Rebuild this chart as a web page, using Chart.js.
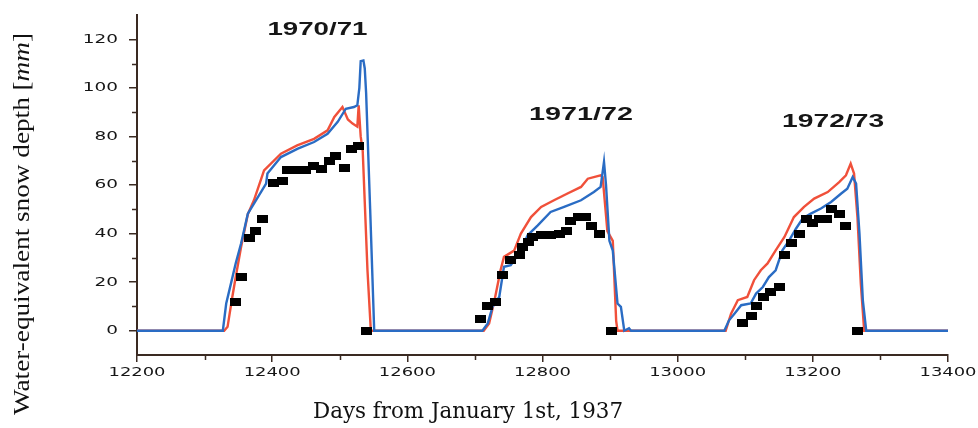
<!DOCTYPE html>
<html>
<head>
<meta charset="utf-8">
<script src="https://cdn.jsdelivr.net/npm/chart.js@4.4.1/dist/chart.umd.min.js"></script>
<style>
html,body{margin:0;padding:0;background:#ffffff;}
#wrap{width:978px;height:428px;position:relative;}
</style>
</head>
<body>
<div id="wrap"><canvas id="c" width="978" height="428"></canvas></div>
<script>
// ---------------- DATA ----------------
const xTicks = [12200, 12400, 12600, 12800, 13000, 13200, 13400];
const xMinorTicks = [12300, 12500, 12700, 12900, 13100, 13300];
const yTicks = [0, 20, 40, 60, 80, 100, 120];
const yMinorTicks = [10, 30, 50, 70, 90, 110];

const seasonLabels = ['1970/71', '1971/72', '1972/73'];
const seasonLabelDays = [12467, 12857, 13230];
const seasonLabelValues = [123.7, 88.8, 85.9];

// red model line
const redDays = [12200, 12329, 12334, 12341, 12346, 12354, 12364, 12373, 12388, 12413, 12437, 12462, 12482, 12492, 12504, 12512, 12519, 12526, 12528, 12531, 12534, 12537, 12541, 12546,
  12713, 12721, 12729, 12738, 12743, 12758, 12768, 12783, 12798, 12817, 12837, 12857, 12867, 12886, 12889, 12896, 12904, 12909, 12911,
  13071, 13079, 13089, 13103, 13113, 13123, 13133, 13145, 13158, 13172, 13187, 13202, 13222, 13239, 13249, 13256, 13261, 13266, 13271, 13276, 13400];
const redValues = [0, 0, 1.6, 13.9, 22, 34.5, 48, 53.7, 66, 72.9, 76.3, 79, 82.5, 88, 92.1, 87, 85.3, 84, 92.8, 80, 74, 53, 25, 0,
  0, 3, 12.5, 25, 30.4, 33, 40, 46.8, 51, 53.7, 56.5, 59.2, 62.6, 64, 63.3, 41, 37, 4, 0,
  0, 7, 12.6, 13.9, 20.8, 24.9, 27.7, 33.1, 38.6, 46.8, 51, 54.4, 57.1, 61.2, 64, 68.8, 64.7, 46.8, 19.4, 0, 0];

// blue model line
const blueDays = [12200, 12327, 12332, 12339, 12346, 12354, 12364, 12376, 12391, 12393, 12413, 12438, 12462, 12482, 12497, 12509, 12521, 12526, 12529, 12531, 12535, 12537, 12539, 12545, 12551,
  12711, 12719, 12726, 12736, 12743, 12753, 12768, 12778, 12793, 12812, 12832, 12857, 12876, 12886, 12891, 12894, 12899, 12904, 12911, 12916, 12921, 12928, 12931,
  13069, 13076, 13084, 13094, 13108, 13116, 13126, 13135, 13145, 13155, 13165, 13175, 13185, 13197, 13212, 13227, 13242, 13251, 13259, 13264, 13269, 13274, 13279, 13400];
const blueValues = [0, 0, 11.2, 19.4, 27.7, 35.9, 48.2, 53.7, 60.6, 64.7, 71.5, 75, 77.7, 81.1, 86, 91.4, 92.1, 92.8, 100, 111, 111.3, 108, 98, 50, 0,
  0, 3, 9.8, 13.9, 26.3, 27, 33, 39.3, 43.4, 48.9, 51, 53.7, 57.1, 59.2, 69.5, 60, 37, 33, 11.2, 9.8, 0, 1, 0,
  0, 4.3, 7, 10.5, 11.2, 15.3, 18, 22.1, 24.9, 33.1, 37.2, 42, 46.2, 48.2, 50.3, 53, 56.5, 58.5, 63.3, 60.6, 40, 12.5, 0, 0];

// observed snow depth (black squares)
const obsDays = [12346, 12355, 12366, 12376, 12386, 12402, 12416, 12423, 12436, 12449, 12461, 12473, 12485, 12494, 12507, 12517, 12528, 12539,
  12709, 12719, 12731, 12741, 12753, 12766, 12771, 12780, 12785, 12798, 12812, 12825, 12835, 12842, 12854, 12864, 12872, 12884, 12902,
  13096, 13109, 13117, 13127, 13138, 13150, 13158, 13169, 13180, 13190, 13200, 13210, 13220, 13227, 13239, 13249, 13266];
const obsValues = [12, 22, 38, 41, 46, 61, 61.5, 66, 66, 66, 68, 66.5, 70, 72, 67, 75, 76, 0,
  5, 10, 12, 23, 29, 31, 34.5, 36.5, 38.6, 39.3, 39.3, 40, 41, 45, 47, 47, 43, 40, 0,
  3, 6, 10, 14, 16, 18, 31, 36, 40, 46, 44.5, 46, 46, 50, 48, 43, 0];

// ---------------- STYLE ----------------
const AXIS = '#3a2a22';
const TXT = '#161616';
const RED = '#f0503a';
const BLUE = '#2a6cc4';

const pts = (xs, ys) => xs.map((d, i) => ({ x: d, y: ys[i] }));

const marker = document.createElement('canvas');
marker.width = 11; marker.height = 8;
(function(){ const m = marker.getContext('2d'); m.fillStyle = '#000'; m.fillRect(0, 0, 11, 8); })();

function stretchText(ctx, text, x, y, font, sx, align) {
  ctx.save();
  ctx.font = font;
  ctx.translate(x, y);
  ctx.scale(sx, 1);
  ctx.textAlign = align;
  ctx.textBaseline = 'middle';
  ctx.fillText(text, 0, 0);
  ctx.restore();
}
function fitText(ctx, text, x, y, font, width) {
  ctx.save();
  ctx.font = font;
  const w = ctx.measureText(text).width;
  ctx.restore();
  stretchText(ctx, text, x, y, font, width / w, 'center');
}

const decor = {
  id: 'decor',
  afterDraw(chart) {
    const { ctx, scales: { x, y } } = chart;
    ctx.save();
    ctx.strokeStyle = AXIS;
    ctx.lineWidth = 1.5;
    ctx.beginPath();
    xMinorTicks.forEach(v => { const p = Math.round(x.getPixelForValue(v)) + 0.5; ctx.moveTo(p, y.bottom); ctx.lineTo(p, y.bottom + 5); });
    yMinorTicks.forEach(v => { const p = Math.round(y.getPixelForValue(v)) + 0.5; ctx.moveTo(x.left, p); ctx.lineTo(x.left - 5, p); });
    ctx.stroke();

    ctx.fillStyle = TXT;
    const tickFont = '13px "DejaVu Sans", Arial, sans-serif';
    xTicks.forEach(v => stretchText(ctx, String(v), x.getPixelForValue(v), y.bottom + 18, tickFont, 1.38, 'center'));
    yTicks.forEach(v => stretchText(ctx, String(v), x.left - 19, y.getPixelForValue(v), tickFont, 1.42, 'right'));

    // season labels
    const labFont = 'bold 18px "Liberation Sans", Arial, sans-serif';
    const labW = [100, 104, 102];
    seasonLabels.forEach((t, i) => fitText(ctx, t, x.getPixelForValue(seasonLabelDays[i]), y.getPixelForValue(seasonLabelValues[i]), labFont, labW[i]));

    // x axis title
    ctx.fillStyle = '#111';
    fitText(ctx, 'Days from January 1st, 1937', 468, 412, '23px "DejaVu Serif", "Liberation Serif", serif', 310);

    // y axis title (rotated, with italic mm)
    const f1 = '23px "Liberation Serif", "DejaVu Serif", serif';
    const f2 = 'italic 23px "Liberation Serif", "DejaVu Serif", serif';
    const parts = [['Water-equivalent snow depth [', f1], ['mm', f2], [']', f1]];
    let total = 0;
    const widths = parts.map(([t, f]) => { ctx.font = f; const w = ctx.measureText(t).width; total += w; return w; });
    const target = 382;
    const sx = target / total;
    ctx.save();
    ctx.translate(23, 224);
    ctx.rotate(-Math.PI / 2);
    ctx.scale(sx, 1);
    ctx.textBaseline = 'middle';
    ctx.textAlign = 'left';
    let cx = -total / 2;
    parts.forEach(([t, f], i) => { ctx.font = f; ctx.fillText(t, cx, 0); cx += widths[i]; });
    ctx.restore();
    ctx.restore();
  }
};

new Chart(document.getElementById('c'), {
  type: 'line',
  data: {
    datasets: [
      { label: 'Observed', data: pts(obsDays, obsValues), showLine: false, pointStyle: marker, pointRadius: 5, pointHoverRadius: 5, borderColor: '#000', backgroundColor: '#000' },
      { label: 'Model B', data: pts(blueDays, blueValues), borderColor: BLUE, borderWidth: 2.4, pointRadius: 0, tension: 0, fill: false },
      { label: 'Model A', data: pts(redDays, redValues), borderColor: RED, borderWidth: 2.4, pointRadius: 0, tension: 0, fill: false }
    ]
  },
  options: {
    responsive: false,
    animation: false,
    devicePixelRatio: 1,
    layout: { padding: { left: 0, top: 15, right: 30, bottom: 0 } },
    plugins: { legend: { display: false }, tooltip: { enabled: false }, title: { display: false } },
    scales: {
      x: {
        type: 'linear', min: 12200, max: 13400,
        afterBuildTicks: s => { s.ticks = xTicks.map(v => ({ value: v })); },
        afterFit: s => { s.height = 73; },
        ticks: { display: false },
        grid: { drawOnChartArea: false, drawTicks: true, tickLength: 7, color: AXIS, tickColor: AXIS, lineWidth: 1.5 },
        border: { display: true, color: AXIS, width: 2 }
      },
      y: {
        type: 'linear', min: -10, max: 130,
        afterBuildTicks: s => { s.ticks = yTicks.map(v => ({ value: v })); },
        afterFit: s => { s.width = 137; },
        ticks: { display: false },
        grid: { drawOnChartArea: false, drawTicks: true, tickLength: 8, color: AXIS, tickColor: AXIS, lineWidth: 1.5 },
        border: { display: true, color: AXIS, width: 2 }
      }
    }
  },
  plugins: [decor]
});
</script>
</body>
</html>
